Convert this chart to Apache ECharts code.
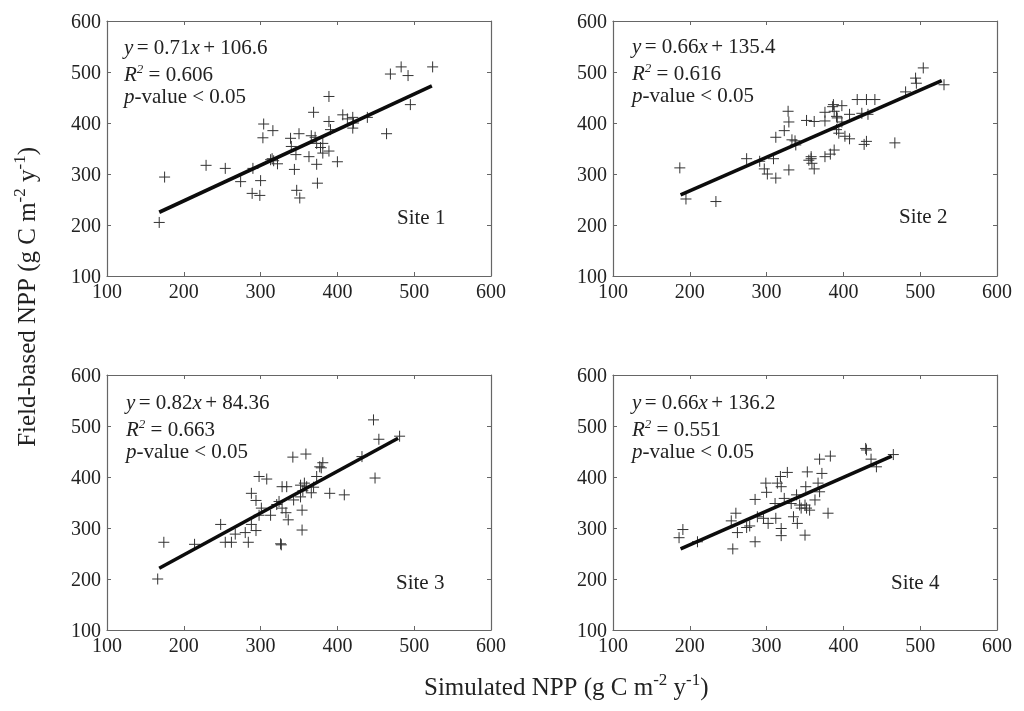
<!DOCTYPE html>
<html>
<head>
<meta charset="utf-8">
<style>
  html, body { margin: 0; padding: 0; background: #fff; }
  #chart { width: 1024px; height: 711px; }
</style>
<script src="https://cdn.jsdelivr.net/npm/echarts@6/dist/echarts.min.js"></script>
</head>
<body>
<div id="chart"></div>
<script>
const tickValues = [100, 200, 300, 400, 500, 600];

const site1Points = [[168,205],[175,294],[229,317],[254,311],[274,285],[290,311],[289,262],[299,258],[300,287],[304,398],[303,371],[316,385],[315,330],[317,326],[322,320],[313,328],[339,370],[340,354],[350,379],[346,338],[344,309],[347,268],[351,253],[363,334],[366,375],[369,421],[371,372],[373,360],[373,319],[374,282],[378,352],[381,360],[381,341],[389,345],[389,403],[389,452],[391,387],[400,324],[407,416],[413,408],[420,411],[421,400],[420,390],[439,411],[464,379],[469,496],[483,510],[492,493],[495,436],[524,510]];
const site2Points = [[187,312],[195,251],[234,246],[274,330],[291,325],[297,310],[301,300],[309,330],[312,292],[312,372],[323,385],[328,423],[329,402],[329,308],[333,367],[337,365],[338,357],[352,405],[362,403],[355,327],[358,334],[358,330],[359,321],[362,310],[376,404],[376,421],[376,334],[383,339],[388,347],[386,432],[388,423],[387,436],[391,413],[392,410],[391,387],[394,380],[398,434],[398,402],[402,374],[408,369],[408,417],[418,446],[424,419],[430,446],[427,358],[430,364],[432,417],[441,446],[467,361],[481,461],[494,488],[495,478],[504,508],[531,475]];
const site3Points = [[166,200],[174,272],[214,268],[248,307],[254,272],[262,272],[267,288],[280,291],[284,272],[288,368],[288,307],[294,354],[294,295],[298,401],[301,339],[298,325],[308,396],[313,325],[321,346],[324,352],[326,269],[327,267],[328,339],[328,381],[334,381],[333,330],[336,316],[342,439],[343,355],[352,384],[352,361],[354,335],[354,296],[355,373],[357,388],[359,445],[360,381],[366,369],[369,380],[373,401],[377,420],[379,418],[381,428],[390,368],[409,365],[432,440],[447,512],[449,398],[454,474],[481,480]];
const site4Points = [[186,281],[191,297],[210,273],[256,259],[254,314],[260,329],[262,291],[274,301],[278,304],[285,273],[285,356],[288,322],[296,319],[299,388],[300,370],[302,309],[311,348],[312,319],[314,388],[318,401],[319,299],[319,285],[319,381],[323,358],[327,409],[332,348],[335,322],[339,365],[340,309],[343,345],[345,339],[350,286],[351,381],[350,345],[352,339],[353,410],[356,335],[363,355],[367,388],[369,435],[369,371],[372,407],[380,329],[383,441],[429,456],[430,453],[436,435],[443,420],[465,444]];

const site1Fit = [[168,225],[523,473]];
const site2Fit = [[188,259],[528,483]];
const site3Fit = [[168,221],[479,476]];
const site4Fit = [[188,259],[463,441]];

const equations = ["0.71", "0.66", "0.82", "0.66"];
const intercepts = ["106.6", "135.4", "84.36", "136.2"];
const rSquared = ["0.606", "0.616", "0.663", "0.551"];
const siteNames = ["Site 1", "Site 2", "Site 3", "Site 4"];

const allPoints = [site1Points, site2Points, site3Points, site4Points];
const allFits = [site1Fit, site2Fit, site3Fit, site4Fit];

const serif = '"Liberation Serif", "Times New Roman", serif';
const frameColor = "#666";
const inkColor = "#222";

// pixel boxes of the four panels
const panels = [
  { left: 107, top: 21, width: 384, height: 255, textX: 124, textY: 38, siteX: 397, siteY: 208 },
  { left: 613, top: 21, width: 384, height: 255, textX: 632, textY: 37, siteX: 899, siteY: 207 },
  { left: 107, top: 375, width: 384, height: 255, textX: 126, textY: 393, siteX: 396, siteY: 573 },
  { left: 613, top: 375, width: 384, height: 255, textX: 632, textY: 393, siteX: 891, siteY: 573 },
];

const grids = [], xAxes = [], yAxes = [], series = [], graphics = [];

const textRich = {
  i: { fontFamily: serif, fontStyle: "italic", fontSize: 21, fill: inkColor, lineHeight: 24 },
  sup: { fontFamily: serif, fontStyle: "italic", fontSize: 13, fill: inkColor, verticalAlign: "top", lineHeight: 24 },
  n: { fontFamily: serif, fontSize: 21, fill: inkColor, lineHeight: 24 },
};

panels.forEach((p, i) => {
  grids.push({ left: p.left, top: p.top, width: p.width, height: p.height, show: false });

  const axisBase = {
    type: "value", min: 100, max: 600, interval: 100, gridIndex: i,
    axisLine: { show: true, onZero: false, lineStyle: { color: frameColor, width: 1.2 } },
    axisTick: { show: true, inside: true, length: 4, lineStyle: { color: frameColor } },
    splitLine: { show: false },
  };
  const labelStyle = {
    fontFamily: serif, fontSize: 20, color: inkColor, margin: 6,
    customValues: tickValues,
  };
  xAxes.push({ ...axisBase, position: "bottom", axisLabel: { ...labelStyle, margin: 7 } });
  xAxes.push({ ...axisBase, position: "top", axisLabel: { show: false } });
  yAxes.push({ ...axisBase, position: "left", axisLabel: { ...labelStyle, verticalAlign: "top", lineHeight: 4 } });
  yAxes.push({ ...axisBase, position: "right", axisLabel: { show: false } });

  series.push({
    type: "scatter",
    xAxisIndex: i * 2,
    yAxisIndex: i * 2,
    data: allPoints[i],
    symbol: "path://M5 0V10M0 5H10",
    symbolSize: 11,
    silent: true,
    itemStyle: { color: "transparent", borderColor: "#333", borderWidth: 1, opacity: 1 },
  });
  series.push({
    type: "line",
    xAxisIndex: i * 2,
    yAxisIndex: i * 2,
    data: allFits[i],
    symbol: "none",
    silent: true,
    z: 5,
    lineStyle: { color: "#0c0c0c", width: 3.6, cap: "butt" },
  });

  graphics.push({
    type: "text", left: p.textX, top: p.textY,
    style: {
      text: `{i|y} {n|= ${equations[i]}}{i|x} {n|+ ${intercepts[i]}}`,
      rich: textRich,
    },
  });
  graphics.push({
    type: "text", left: p.textX, top: p.textY + 25,
    style: {
      text: `{i|R}{sup|2}{n| = ${rSquared[i]}}`,
      rich: textRich,
    },
  });
  graphics.push({
    type: "text", left: p.textX, top: p.textY + 49,
    style: {
      text: `{i|p}{n|-value < 0.05}`,
      rich: textRich,
    },
  });
  graphics.push({
    type: "text", left: p.siteX, top: p.siteY,
    style: { text: siteNames[i], fontFamily: serif, fontSize: 21, fill: inkColor },
  });
});

const titleRich = {
  n: { fontFamily: serif, fontSize: 25, fill: inkColor, lineHeight: 32, verticalAlign: "middle" },
  sup: { fontFamily: serif, fontSize: 17, fill: inkColor, lineHeight: 32, verticalAlign: "top" },
};

graphics.push({
  type: "text", left: 424, top: 672,
  style: { text: "{n|Simulated NPP (g C m}{sup|-2}{n| y}{sup|-1}{n|)}", rich: titleRich },
});
graphics.push({
  type: "text", left: 12, top: 147, rotation: Math.PI / 2,
  style: { text: "{n|Field-based NPP (g C m}{sup|-2}{n| y}{sup|-1}{n|)}", rich: titleRich },
});

const option = {
  animation: false,
  backgroundColor: "#fff",
  grid: grids,
  xAxis: xAxes,
  yAxis: yAxes,
  series: series,
  graphic: graphics,
};

const chart = echarts.init(document.getElementById("chart"), null, { renderer: "canvas" });
chart.setOption(option);

window.addEventListener("resize", () => chart.resize());
</script>
</body>
</html>
